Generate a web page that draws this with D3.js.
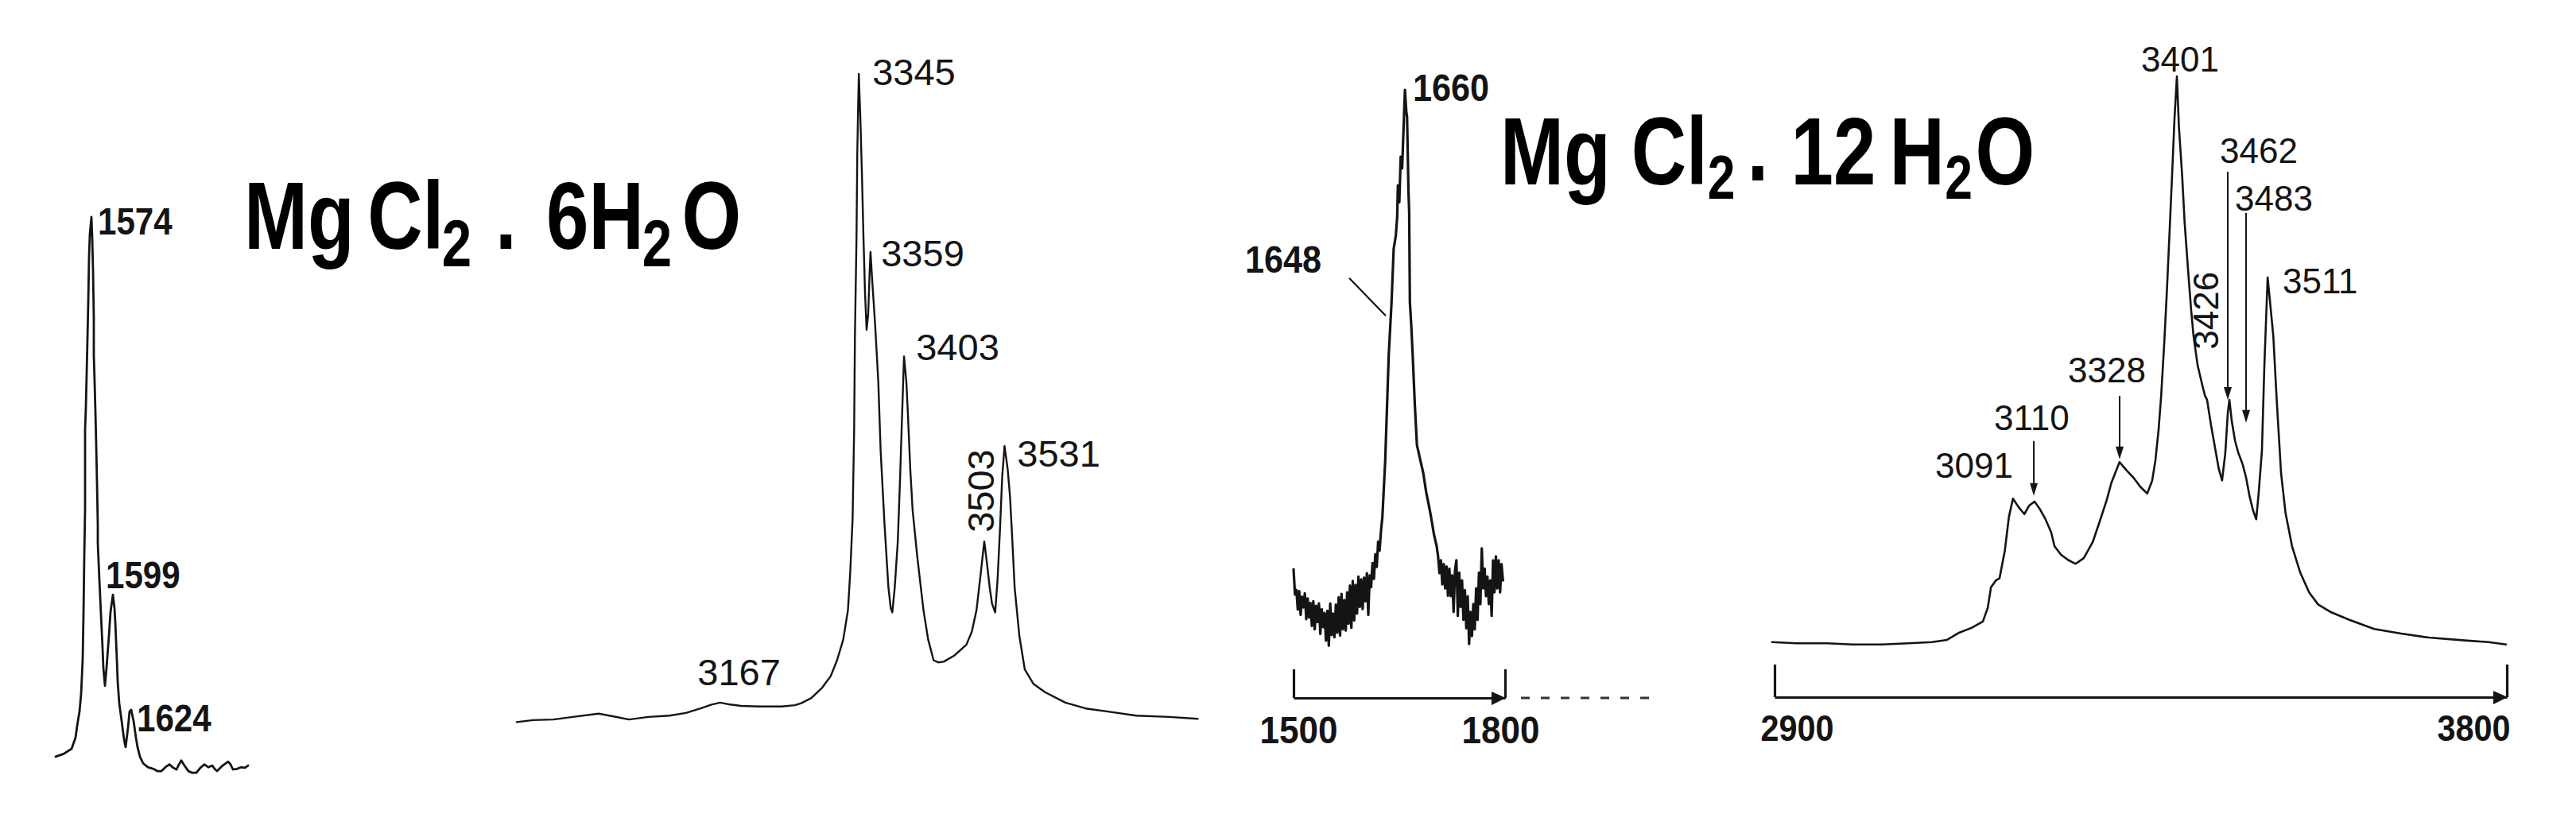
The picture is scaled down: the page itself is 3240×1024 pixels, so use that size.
<!DOCTYPE html>
<html><head><meta charset="utf-8">
<script src="https://cdn.jsdelivr.net/npm/d3@7"></script>
<style>html,body{margin:0;padding:0;background:#fff;} svg{display:block;background:#fff;}</style>
</head><body>
<svg id="c" width="3240" height="1024"></svg>
<script>
// ---------- DATA (wavenumber cm-1, relative intensity %) ----------
// Panel 1: MgCl2.6H2O, bending region
const p1Wavenumber = [1529,1539,1549,1554,1556,1559,1561,1563,1564,1565,1566,1566,1566,1567,1568,1569,1570,1571,1572,1574,1575,1576,1577,1577,1578,1579,1580,1581,1582,1582,1584,1586,1588,1589,1591,1593,1596,1598,1601,1603,1604,1606,1607,1609,1612,1615,1617,1620,1622,1624,1625,1627,1630,1632,1635,1639,1645,1652,1657,1662,1667,1672,1677,1681,1684,1687,1691,1696,1701,1706,1711,1716,1721,1726,1729,1732,1739,1746,1749,1752,1757,1762,1767,1771];
const p1Intensity = [3.3,3.8,4.7,6.7,8.8,11.4,14.5,20.7,28.8,39.2,47.7,56.3,62.0,65.8,71.9,78.1,84.8,92.9,96.9,100,96.2,90.5,81.9,75.2,70.5,65.2,59.1,52.4,44.9,41.6,34.9,28.8,22.8,19.2,16.0,19.2,24.9,29.2,32.3,29.9,27.4,20.7,16.8,12.8,9.7,6.4,5.0,8.5,11.4,11.7,11.0,9.7,6.7,5.0,3.3,2.1,1.4,1.1,0.7,0.7,1.4,1.9,1.3,1.0,1.9,2.6,1.7,0.7,0.4,0.4,1.3,1.9,1.4,1.7,1.1,0.7,1.7,2.4,1.9,1.0,1.1,1.4,1.3,1.7];
const p1Labels = ["1574","1599","1624"];
const p1LabelW = [1582,1592,1631];
const p1LabelI = [96.9,33.5,7.8];

// Panel 2: MgCl2.6H2O, stretching region
const p2Wavenumber = [2906,2927,2953,2978,3011,3029,3050,3075,3102,3123,3142,3156,3167,3180,3194,3217,3246,3263,3271,3284,3298,3309,3317,3325,3331,3334,3337,3339,3340,3342,3343,3344,3345,3347,3349,3351,3353,3355,3357,3359,3360,3362,3364,3366,3370,3373,3378,3383,3386,3388,3391,3395,3398,3400,3403,3406,3408,3411,3414,3420,3428,3434,3441,3447,3454,3467,3483,3490,3496,3501,3506,3509,3513,3516,3520,3523,3526,3529,3532,3536,3539,3542,3545,3551,3558,3569,3584,3610,3636,3672,3701,3743,3780];
const p2Intensity = [0.2,0.5,0.6,1.0,1.5,1.1,0.6,1.0,1.2,1.6,2.3,2.9,3.2,2.9,2.7,2.6,2.6,2.8,3.1,3.9,5.5,7.3,9.7,12.9,17.4,23.3,31.5,45.3,59.6,74.7,87.6,94.2,100,93.0,84.5,74.7,66.1,60.6,63.0,69.8,72.6,68.5,64.9,61.2,52.6,42.0,30.6,20.9,17.7,17.1,20.8,28.0,37.9,45.5,56.5,52.6,47.6,39.2,32.9,25.7,17.4,12.9,9.7,9.4,9.5,10.4,12.1,14.1,17.4,22.6,28.0,25.1,20.9,18.4,17.1,22.0,29.4,37.9,42.7,39.2,35.0,28.2,20.9,13.5,8.3,6.1,4.8,3.2,2.3,1.7,1.2,1.0,0.7];
const p2Labels = ["3345","3359","3403","3531","3167"];
const p2LabelW = [3362.3,3373.6,3418.5,3548.1,3137.9];
const p2LabelI = [98.3,70.4,55.9,39.5,5.9];
const p2VLabels = ["3503"];
const p2VLabelW = [3518.5];
const p2VLabelI = [29.4];

// Panel 3: MgCl2.12H2O, bending region
const p3Wavenumber = [1500,1502,1504,1506,1508,1510,1512,1514,1516,1518,1520,1522,1524,1526,1528,1530,1532,1534,1536,1538,1540,1542,1544,1546,1548,1550,1552,1554,1556,1558,1560,1562,1564,1566,1568,1570,1572,1574,1576,1578,1580,1582,1584,1586,1588,1590,1592,1594,1596,1598,1600,1602,1604,1606,1608,1610,1612,1614,1616,1618,1620,1622,1624,1626,1628,1630,1635,1639,1642,1645,1647,1648,1650,1652,1654,1656,1658,1660,1661,1663,1664,1665,1667,1669,1672,1675,1680,1684,1688,1692,1695,1699,1703,1705,1707,1709,1711,1713,1715,1717,1719,1721,1723,1725,1727,1729,1731,1733,1735,1737,1739,1741,1743,1745,1747,1749,1751,1753,1755,1757,1759,1761,1763,1765,1767,1769,1771,1773,1775,1777,1779,1781,1783,1785,1787,1789,1791,1793,1795,1797];
const p3Intensity = [14.7,10.2,11.0,7.5,10.8,6.6,9.8,7.9,10.4,5.8,9.5,6.1,8.7,4.6,9.0,4.0,8.2,5.3,8.6,3.2,7.6,4.4,6.9,2.0,7.3,1.1,8.6,3.0,6.8,2.6,8.4,3.4,9.7,2.9,10.3,4.0,9.2,3.8,10.6,5.0,11.8,4.3,12.6,5.6,11.9,6.8,13.4,8.0,12.9,7.6,13.2,9.0,14.0,6.6,13.6,11.5,15.8,13.0,17.4,15.1,19.6,18.0,21.5,24.0,29.0,34.0,52.8,62.2,71.7,74.0,77.4,83.0,80.0,88.1,86.0,93.0,100,96.0,95.2,82.0,78.2,62.2,58.0,52.8,44.0,36.8,34.0,31.8,28.5,26.0,24.0,21.0,18.8,17.0,14.0,16.3,12.0,15.6,11.3,15.2,10.0,14.8,9.9,13.6,7.1,14.5,16.3,6.4,14.1,8.0,12.7,5.7,11.0,4.2,9.9,1.4,7.1,2.8,8.5,4.0,11.3,5.7,14.1,8.5,18.4,11.3,14.8,9.9,13.4,8.5,12.7,6.4,16.3,10.6,17.0,11.3,16.3,10.6,15.6,12.7];
const p3Labels = ["1660","1648"];
const p3LabelW = [1669.2,1431.2];
const p3LabelI = [98.0,67.5];
const p3LeaderW = [1578.9,1630.8];
const p3LeaderI = [66.5,59.8];
const p3AxisTicks = [1500,1800];

// Panel 4: MgCl2.12H2O, stretching region
const p4Wavenumber = [2897,2927,2964.5,2996,3032,3064,3093.5,3112,3126,3142,3156,3162,3166,3172,3176.5,3183,3188,3193,3200,3207,3213,3219.5,3226,3233,3240,3244,3252,3260.5,3270,3280,3291,3300.5,3308.5,3314,3324,3333,3341,3349.5,3358,3364,3368,3372,3375,3379,3382,3386,3389,3391.5,3394.5,3397,3401,3404,3408,3412,3415,3420,3426,3429,3431.6,3436.5,3442,3446,3450,3454,3457,3459,3462,3466,3470,3473,3475.5,3479.5,3484,3488,3492,3495,3499,3502,3506,3509,3513,3517,3522.5,3528,3536,3546,3557,3568,3583,3606.5,3637,3670,3704,3748,3777.5,3799];
const p4Intensity = [1.0,0.8,0.8,0.6,0.6,0.8,1.0,1.4,2.6,3.5,4.6,7.0,10.6,11.8,12.2,17.0,22.9,26.1,24.6,23.4,24.9,25.6,24.3,22.5,20.2,17.8,16.3,15.4,14.7,15.7,18.5,22.5,26.0,28.9,32.5,31.0,29.8,28.2,27.0,29.2,32.7,38.2,43.8,53.5,61.9,74.4,84.1,92.5,100,91.1,82.5,74.4,66.5,59.1,54.5,49.4,45.8,44.1,43.4,38.9,34.5,31.3,29.3,34.1,41.0,43.4,39.6,36.2,34.1,33.0,32.0,29.8,26.4,24.1,22.5,27.1,34.5,49.4,64.8,60.5,54.5,43.8,30.6,23.6,17.8,13.2,9.7,7.6,6.3,4.9,3.3,2.5,1.8,1.3,1.0,0.6];
const p4Labels = ["3401","3462","3483","3511","3328","3110","3091"];
const p4LabelW = [3398.4,3447.2,3465.8,3524.4,3260.6,3169.7,3097.4];
const p4LabelI = [100.8,84.8,76.5,62.0,46.5,38.1,29.8];
const p4VLabels = ["3426"];
const p4VLabelW = [3445.3];
const p4VLabelI = [52.2];
const p4ArrowW = [3218.6,3324.1,3457.0,3479.5];
const p4ArrowTop = [36.2,44.1,83.3,76.1];
const p4ArrowBottom = [26.6,33.0,43.4,39.4];
const p4AxisTicks = [2900,3800];

// ---------- DRAWING ----------
const svg = d3.select("#c");
const ink = "#141414";
const sans = "'Liberation Sans', Arial, Helvetica, sans-serif";

const x1 = d3.scaleLinear().domain([1529,1771]).range([70,312]);
const y1 = d3.scaleLinear().domain([0,100]).range([975,273]);
const x2 = d3.scaleLinear().domain([2900,3800]).range([644.1,1526.1]);
const y2 = d3.scaleLinear().domain([0,100]).range([910,93]);
const x3 = d3.scaleLinear().domain([1500,1800]).range([1627,1893]);
const y3 = d3.scaleLinear().domain([0,100]).range([820,113]);
const x4 = d3.scaleLinear().domain([2900,3800]).range([2232,3153]);
const y4 = d3.scaleLinear().domain([0,100]).range([815,96]);

function spectrum(xs, ys, W, I, sw) {
  svg.append("path")
    .datum(W.map((w, i) => [w, I[i]]))
    .attr("d", d3.line().x(d => xs(d[0])).y(d => ys(d[1])))
    .attr("fill", "none").attr("stroke", ink)
    .attr("stroke-width", sw).attr("stroke-linejoin", "round").attr("stroke-linecap", "round");
}
function labels(xs, ys, T, W, I, size, weight, opts) {
  opts = opts || {};
  const sx = opts.sx || 1;
  T.forEach((t, i) => {
    const x = xs(W[i]), y = ys(I[i]);
    let tr = `translate(${x},${y})`;
    if (opts.rotate) tr += " rotate(-90)";
    if (sx !== 1) tr += ` scale(${sx},1)`;
    svg.append("text")
      .attr("transform", tr)
      .attr("text-anchor", opts.anchor ? opts.anchor[i] : "start")
      .attr("font-family", sans).attr("font-size", size).attr("font-weight", weight)
      .attr("fill", ink).text(t);
  });
}
function axis(xs, yPix, ticks, tickLen, pad, size, dxs) {
  const g = svg.append("g").attr("transform", `translate(0,${yPix})`)
    .call(d3.axisBottom(xs).tickValues(ticks).tickSize(-tickLen).tickSizeOuter(0)
      .tickPadding(pad).tickFormat(d3.format("d")));
  g.select(".domain").attr("stroke", ink).attr("stroke-width", 3.2);
  g.selectAll(".tick line").attr("stroke", ink).attr("stroke-width", 3.2);
  g.selectAll(".tick text").attr("font-family", sans).attr("font-size", size)
    .attr("font-weight", "bold").attr("fill", ink)
    .attr("transform", (d, i) => `translate(${dxs[i]},0) scale(0.9,1)`);
  const xe = xs.range()[1];
  g.append("path").attr("d", `M${xe - 17},-8L${xe + 1},0L${xe - 17},9Z`).attr("fill", ink);
  return g;
}

// Panel 1
spectrum(x1, y1, p1Wavenumber, p1Intensity, 2.8);
labels(x1, y1, p1Labels, p1LabelW, p1LabelI, 49, "bold", {sx: 0.86});

// Panel 2
spectrum(x2, y2, p2Wavenumber, p2Intensity, 2.4);
labels(x2, y2, p2Labels, p2LabelW, p2LabelI, 47, "normal");
labels(x2, y2, p2VLabels, p2VLabelW, p2VLabelI, 47, "normal", {rotate: true});

// Panel 3
spectrum(x3, y3, p3Wavenumber, p3Intensity, 3.2);
labels(x3, y3, p3Labels, p3LabelW, p3LabelI, 48, "bold", {sx: 0.9});
svg.append("line")
  .attr("x1", x3(p3LeaderW[0])).attr("y1", y3(p3LeaderI[0]))
  .attr("x2", x3(p3LeaderW[1])).attr("y2", y3(p3LeaderI[1]))
  .attr("stroke", ink).attr("stroke-width", 2.2);
axis(x3, 878, p3AxisTicks, 36, 22, 49, [6, -6]);
svg.append("line").attr("x1", x3(1800) + 20).attr("x2", x3(1800) + 192)
  .attr("y1", 878).attr("y2", 878).attr("stroke", "#333").attr("stroke-width", 3)
  .attr("stroke-dasharray", "11 14");

// Panel 4
spectrum(x4, y4, p4Wavenumber, p4Intensity, 2.6);
const p4Anchor = p4Labels.map((t, i) => i === 0 ? "middle" : "start");
labels(x4, y4, p4Labels, p4LabelW, p4LabelI, 44, "normal", {anchor: p4Anchor});
labels(x4, y4, p4VLabels, p4VLabelW, p4VLabelI, 44, "normal", {rotate: true});
p4ArrowW.forEach((w, i) => {
  const x = x4(w), yt = y4(p4ArrowTop[i]), yb = y4(p4ArrowBottom[i]);
  svg.append("line").attr("x1", x).attr("x2", x).attr("y1", yt).attr("y2", yb - 12)
    .attr("stroke", ink).attr("stroke-width", 2);
  svg.append("path").attr("d", `M${x - 5},${yb - 16}L${x + 5},${yb - 16}L${x},${yb}Z`).attr("fill", ink);
});
axis(x4, 877, p4AxisTicks, 41, 22, 46, [28, -42]);

// ---------- TITLES ----------
function formula(x0, y0, sx, parts) {
  const t = svg.append("text")
    .attr("transform", `translate(${x0},${y0}) scale(${sx},1)`)
    .attr("font-family", sans).attr("font-weight", "bold").attr("fill", "#000");
  parts.forEach(p => {
    t.append("tspan").attr("x", p.x).attr("y", p.y).attr("font-size", p.s).text(p.t);
  });
}
formula(307, 313, 0.8, [
  {t: "Mg", x: 0, y: 0, s: 120},
  {t: "Cl", x: 194, y: 0, s: 120},
  {t: "2", x: 311, y: 22, s: 84},
  {t: ".", x: 395, y: 0, s: 120},
  {t: "6H", x: 475, y: 0, s: 120},
  {t: "2", x: 626, y: 22, s: 84},
  {t: "O", x: 688, y: 0, s: 120}
]);
formula(1887, 232, 0.8, [
  {t: "Mg", x: 0, y: 0, s: 120},
  {t: "Cl", x: 206, y: 0, s: 120},
  {t: "2", x: 326, y: 18, s: 78},
  {t: "\u00B7", x: 388, y: 26, s: 120},
  {t: "12", x: 457, y: 0, s: 120},
  {t: "H", x: 612, y: 0, s: 120},
  {t: "2", x: 699, y: 18, s: 78},
  {t: "O", x: 747, y: 0, s: 120}
]);
</script>
</body></html>
